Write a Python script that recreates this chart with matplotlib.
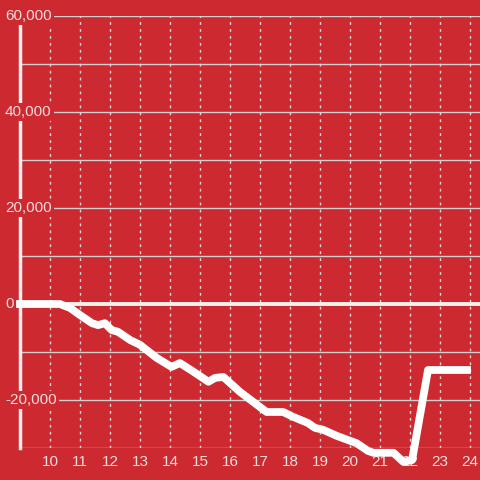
import matplotlib
matplotlib.use("Agg")
import matplotlib.pyplot as plt
from matplotlib.transforms import blended_transform_factory

plt.rcParams['font.family'] = ['Liberation Sans', 'DejaVu Sans']

hours = [9.0, 10.33, 10.67, 11.0, 11.4, 11.6, 11.83, 12.05, 12.27, 12.67, 13.0,
         13.55, 14.05, 14.33, 14.78, 15.28, 15.5, 15.78, 16.33, 17.22, 17.77,
         18.1, 18.6, 18.83, 19.1, 19.57, 20.22, 20.6, 20.78, 21.45, 21.78,
         22.07, 22.6, 23.9]
values = [0, 0, -830, -2300, -4000, -4400, -4000, -5400, -5800, -7500, -8500,
          -11200, -13100, -12300, -14100, -16200, -15400, -15200, -18300, -22500, -22500,
          -23500, -24800, -25800, -26200, -27500, -29000, -30600, -31000, -31000, -32900,
          -32500, -13750, -13750]

x_ticks = list(range(10, 25))
y_labels = [60000, 40000, 20000, 0, -20000]
y_grid = [60000, 50000, 40000, 30000, 20000, 10000, -10000, -20000, -30000]

bg = '#CC2A30'
fig = plt.figure(figsize=(4.8, 4.8), dpi=100, facecolor=bg)
ax = fig.add_axes([20/480, 32/480, 460/480, 432/480])
ax.set_facecolor(bg)
ax.set_xlim(9.0, 24.333)
ax.set_ylim(-30000, 60000)

for s in ['top', 'right', 'bottom']:
    ax.spines[s].set_visible(False)
ax.spines['left'].set_color('#f4f0f0')
ax.spines['left'].set_linewidth(2.5)
ax.spines['left'].set_zorder(3)

for g in y_grid:
    ax.axhline(g, color='#d0d0d0', lw=1.0, zorder=1)
for h in x_ticks:
    ax.axvline(h, color='#d8d8d8', lw=1.0, ls=(0, (2, 3)), zorder=1)
ax.axhline(0, color='#f4f0f0', lw=2.8, zorder=2)

ax.plot(hours, values, color='white', lw=5.6, solid_joinstyle='round',
        clip_on=False, zorder=4)

ax.set_yticks([])
ax.set_xticks(x_ticks)
ax.set_xticklabels([str(h) for h in x_ticks], color='#f2dcdc', fontsize=11)
ax.tick_params(axis='x', length=0, pad=5)

tr = blended_transform_factory(fig.transFigure, ax.transData)
for v in y_labels:
    ax.text(5/480, v, f"{v:,}", transform=tr, ha='left', va='center',
            color='#f2dcdc', fontsize=11, zorder=5,
            bbox=dict(facecolor=bg, edgecolor='none', pad=1.5))

fig.savefig('out.png', dpi=100, facecolor=bg)
